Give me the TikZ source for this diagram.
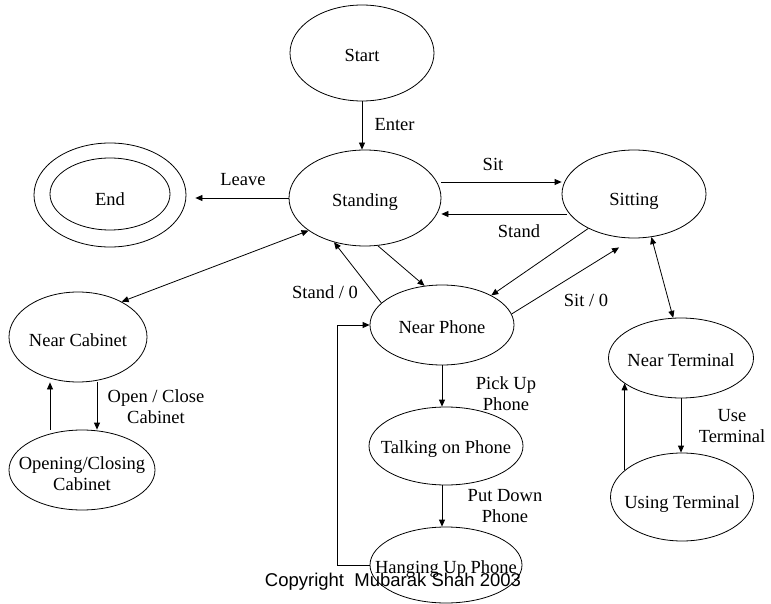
\documentclass[tikz,border=0pt]{standalone}
\usepackage{fontspec}
\setmainfont{Liberation Serif}
\newfontfamily\copyfont{Liberation Sans}
\usetikzlibrary{shapes.geometric, arrows.meta}

\begin{document}
\begin{tikzpicture}[x=1pt, y=-1pt,
		state/.style={draw, ellipse, inner sep=0pt, line width=0.8pt},
		lbl/.style={align=center, font=\fontsize{18.5}{21}\selectfont},
		arr/.style={-{Triangle[length=7pt,width=6pt]}, line width=0.8pt},
		darr/.style={{Triangle[length=7pt,width=6pt]}-{Triangle[length=7pt,width=6pt]}, line width=0.8pt}]
	\useasboundingbox (0,0) rectangle (771,604);
	% states
	\node[state, minimum width=144pt, minimum height=96pt, label={[lbl, yshift=-2pt]center:Start}] (start) at (362,53) {};
	\node[state, minimum width=152pt, minimum height=96pt, label={[lbl, yshift=-4pt]center:Standing}] (standing) at (365,198) {};
	\node[state, minimum width=144pt, minimum height=88pt, label={[lbl, yshift=-7pt]center:Sitting}] (sitting) at (634,194) {};
	\node[state, minimum width=152pt, minimum height=104pt] (endout) at (110,195) {};
	\node[state, minimum width=120pt, minimum height=72pt, label={[lbl, yshift=-5pt]center:End}] (endin) at (110,194) {};
	\node[state, minimum width=138pt, minimum height=90pt, label={[lbl, yshift=-3pt]center:Near Cabinet}] (cabinet) at (78,337) {};
	\node[state, minimum width=146pt, minimum height=80pt, label={[lbl, yshift=-4pt]center:Opening/Closing\\Cabinet}] (opening) at (82,470) {};
	\node[state, minimum width=144pt, minimum height=80pt, label={[lbl, yshift=-2pt]center:Near Phone}] (phone) at (442,325) {};
	\node[state, minimum width=154pt, minimum height=78pt, label={[lbl, yshift=-3pt]center:Talking on Phone}] (talking) at (446,446) {};
	\node[state, minimum width=152pt, minimum height=76pt, label={[lbl, yshift=-4pt]center:Hanging Up Phone}] (hanging) at (446,565) {};
	\node[state, minimum width=145pt, minimum height=80pt, label={[lbl, yshift=-2pt]center:Near Terminal}] (nearterm) at (681,358) {};
	\node[state, minimum width=143pt, minimum height=88pt, label={[lbl, yshift=-7pt]center:Using Terminal}] (using) at (682,497) {};
	% transitions
	\draw[arr] (start.south) -- (start.south |- standing.north);
	\draw[arr] (standing.west) -- ([xshift=9pt]standing.west -| endout.east);
	\draw[arr] ([yshift=16pt]standing.east) -- ([yshift=12pt]sitting.west);
	\draw[arr] ([shift={(5pt,-20pt)}]sitting.west) -- ([yshift=-16pt]standing.east);
	\draw[darr] (cabinet.39) -- (standing.210);
	\draw[arr] (standing.285) -- (phone.114);
	\draw[arr] (phone.160) -- (standing.235);
	\draw[arr] (sitting.217) -- (phone.31);
	\draw[arr] (phone.9) -- ([yshift=-10pt]sitting.251);
	\draw[darr] (sitting.292) -- (nearterm.101);
	\draw[arr] ([xshift=19pt]cabinet.south) -- ([xshift=15pt]opening.north);
	\draw[arr] ([xshift=-32pt]opening.north) -- ([xshift=-28pt]cabinet.south);
	\draw[arr] (phone.south) -- (phone.south |- talking.north);
	\draw[arr] (phone.south |- talking.south) -- (phone.south |- hanging.north);
	\draw[arr] (hanging.west) -- ++(-32,0) |- (phone.west);
	\draw[arr] (nearterm.south) -- (nearterm.south |- using.north);
	\draw[arr] (using.155) -- (using.155 |- nearterm.204);
	% labels
	\node[lbl, anchor=west] (enterlbl) at (371,125) {Enter};
	\node[lbl] (leavelbl) at (243,180) {Leave};
	\node[lbl] (sitlbl) at (493,164) {Sit};
	\node[lbl] (standlbl) at (519,231) {Stand};
	\node[lbl] (standzerolbl) at (325,292) {Stand / 0};
	\node[lbl] (sitzerolbl) at (586,300) {Sit / 0};
	\node[lbl] (cabinetlbl) at (156,407) {Open / Close\\Cabinet};
	\node[lbl] (pickuplbl) at (506,394) {Pick Up\\Phone};
	\node[lbl] (putdownlbl) at (505,506) {Put Down\\Phone};
	\node[lbl] (uselbl) at (732,426) {Use\\Terminal};
	\node[font=\copyfont\fontsize{18.5}{21}\selectfont] (copyright) at (393,582) {Copyright\ \ Mubarak Shah 2003};
\end{tikzpicture}
\end{document}
